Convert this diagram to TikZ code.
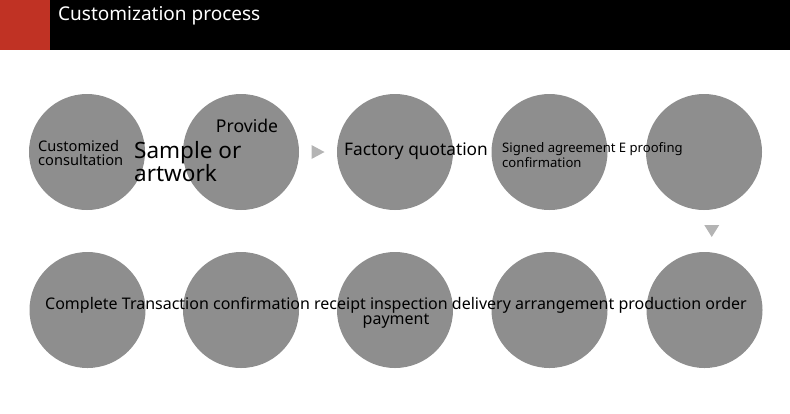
\documentclass[tikz,border=0pt]{standalone}
\usepackage{fontspec}
\setmainfont{Noto Sans}
\usetikzlibrary{calc}
\definecolor{headred}{RGB}{192,50,36}
\definecolor{circgray}{RGB}{142,142,142}
\definecolor{arrgray}{RGB}{180,180,180}
\begin{document}
\begin{tikzpicture}[x=1pt,y=-1pt,
  circ/.style={circle, fill=circgray, minimum size=116pt, inner sep=0pt},
  lbl/.style={inner sep=0pt, text=black},
  tri/.style={fill=arrgray, draw=none}]
\useasboundingbox (0,0) rectangle (790,413);
\fill[black] (0,0) rectangle (790,50);
\fill[headred] (0,0) rectangle (50,50);
\node[lbl, anchor=west, text=white, font=\fontsize{19}{22}\selectfont] (title) at (58,16) {Customization process};
% row 1
\node[circ] (c1) at (87,152) {};
\node[circ] (c2) at (241,152) {};
\node[circ] (c3) at (395,152) {};
\node[circ] (c4) at (549.5,152) {};
\node[circ] (c5) at (704,152) {};
% row 2
\node[circ] (c10) at (87.5,310) {};
\node[circ] (c9) at (241,310) {};
\node[circ] (c8) at (395,310) {};
\node[circ] (c7) at (549.5,310) {};
\node[circ] (c6) at (704.5,310) {};
% labels
\node[lbl, anchor=west, align=left, font=\fontsize{14.6}{14}\selectfont] (t1) at (38,153.5) {Customized\\consultation};
\node[lbl, font=\fontsize{17.6}{18}\selectfont] (t2a) at (247,126) {Provide};
\node[lbl, anchor=west, align=left, font=\fontsize{22.5}{22}\selectfont] (t2b) at (134,161.5) {Sample or\\artwork};
\node[lbl, font=\fontsize{17.3}{18}\selectfont] (t3) at (416,151) {Factory quotation};
\node[lbl, anchor=west, align=left, font=\fontsize{13.1}{14.5}\selectfont] (t4) at (502,155) {Signed agreement E proofing\\confirmation};
\node[lbl, align=center, font=\fontsize{16}{15}\selectfont] (t8) at (396,313) {Complete Transaction confirmation receipt inspection delivery arrangement production order\\payment};
% arrow markers
\coordinate (m1) at ($(c2.east)!0.5!(c3.west)$);
\coordinate (m2) at ($($(c5.south)!0.5!(c6.north)$)+(7.5,0)$);
\fill[tri] ($(m1)+(-6.5,-7)$) -- ($(m1)+(6.5,0)$) -- ($(m1)+(-6.5,7)$) -- cycle;
\fill[tri] ($(m2)+(-7.5,-6)$) -- ($(m2)+(7.5,-6)$) -- ($(m2)+(0,6)$) -- cycle;
\end{tikzpicture}
\end{document}
